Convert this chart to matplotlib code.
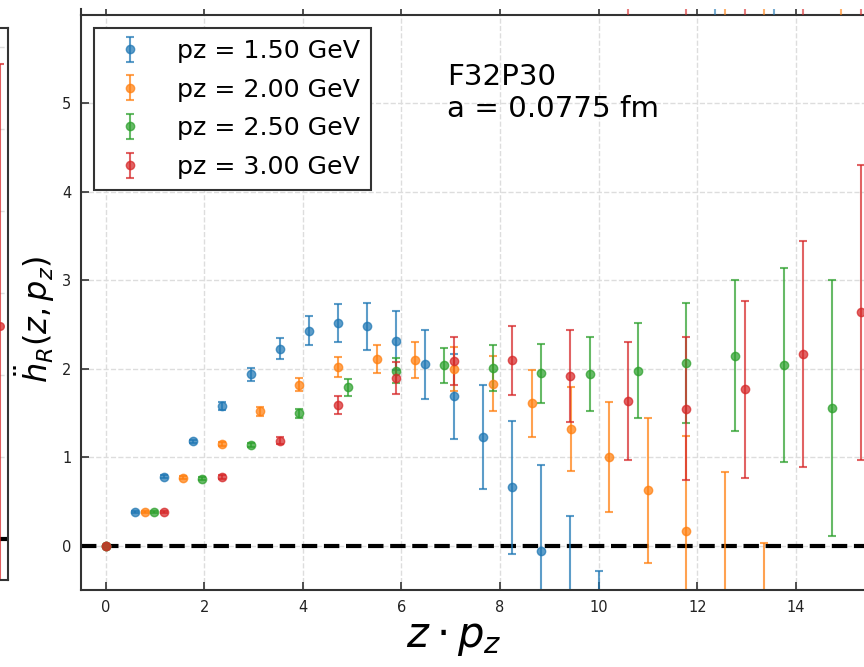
import matplotlib.pyplot as plt

W, H = 864, 667

labels = ["pz = 1.50 GeV", "pz = 2.00 GeV", "pz = 2.50 GeV", "pz = 3.00 GeV"]
colors = ["tab:blue", "tab:orange", "tab:green", "tab:red"]

# z*pz, value, error
zpz_150 = [0, 0.59, 1.18, 1.77, 2.36, 2.95, 3.53, 4.12, 4.71, 5.30, 5.89, 6.48, 7.07, 7.66, 8.25, 8.84, 9.42, 10.01]
h_150 = [0, 0.385, 0.78, 1.18, 1.58, 1.94, 2.23, 2.43, 2.52, 2.48, 2.32, 2.05, 1.69, 1.23, 0.66, -0.055, -0.90, -1.90]
err_150 = [0.005, 0.01, 0.015, 0.02, 0.04, 0.075, 0.115, 0.165, 0.215, 0.27, 0.33, 0.39, 0.48, 0.59, 0.75, 0.97, 1.24, 1.61]

zpz_200 = [0, 0.79, 1.57, 2.36, 3.14, 3.93, 4.71, 5.50, 6.28, 7.07, 7.85, 8.64, 9.43, 10.21, 11.00, 11.78, 12.57, 13.35]
h_200 = [0, 0.385, 0.77, 1.15, 1.52, 1.82, 2.02, 2.11, 2.10, 2.00, 1.83, 1.61, 1.32, 1.00, 0.63, 0.17, -0.60, -1.76]
err_200 = [0.005, 0.01, 0.015, 0.025, 0.05, 0.075, 0.11, 0.155, 0.20, 0.245, 0.31, 0.375, 0.475, 0.62, 0.82, 1.07, 1.43, 1.79]

zpz_250 = [0, 0.98, 1.96, 2.95, 3.93, 4.91, 5.89, 6.87, 7.86, 8.84, 9.82, 10.80, 11.78, 12.77, 13.75, 14.73]
h_250 = [0, 0.385, 0.76, 1.14, 1.50, 1.79, 1.98, 2.04, 2.01, 1.95, 1.94, 1.98, 2.07, 2.15, 2.04, 1.56]
err_250 = [0.005, 0.01, 0.015, 0.02, 0.05, 0.095, 0.14, 0.195, 0.26, 0.335, 0.42, 0.535, 0.68, 0.855, 1.095, 1.445]

zpz_300 = [0, 1.18, 2.36, 3.53, 4.71, 5.89, 7.07, 8.25, 9.42, 10.60, 11.78, 12.96, 14.14, 15.32]
h_300 = [0, 0.385, 0.78, 1.19, 1.59, 1.90, 2.09, 2.10, 1.92, 1.64, 1.55, 1.77, 2.17, 2.64]
err_300 = [0.005, 0.01, 0.02, 0.04, 0.10, 0.18, 0.275, 0.39, 0.52, 0.665, 0.81, 1.0, 1.28, 1.67]

series = [(zpz_150, h_150, err_150), (zpz_200, h_200, err_200),
          (zpz_250, h_250, err_250), (zpz_300, h_300, err_300)]

# error bars of the panel above that cross into the visible strip
strip_x = [10.60, 11.78, 12.37, 12.57, 12.96, 13.35, 13.55, 14.14, 14.92, 15.32]
strip_series = [3, 3, 0, 1, 3, 1, 0, 3, 1, 3]

# neighbouring panel on the left (only its right edge is visible)
left_x = [15.32]
left_h = [2.6]
left_err = [3.19]

SPINE = "#333333"


def px(l, t, r, b):
    # pixel box -> figure fraction
    return [l / W, 1 - b / H, (r - l) / W, (b - t) / H]


def style(ax):
    for s in ax.spines.values():
        s.set_color(SPINE)
        s.set_linewidth(1.5)
    ax.tick_params(direction="in", length=6, width=1.2, color=SPINE,
                   labelsize=10.5, labelcolor="#222222", pad=7)
    ax.grid(True, ls="--", color="#dddddd", lw=1)
    ax.set_axisbelow(True)


fig = plt.figure(figsize=(W / 100, H / 100), dpi=100)

# ---- left neighbour panel ----
unit = 49.3
axl = fig.add_axes(px(8 - 15.98 * unit, 28, 8, 580))
style(axl)
axl.tick_params(labelleft=False, labelbottom=False)
axl.set_xlim(-0.5, 15.48)
axl.set_ylim(-0.5, 6.23)
axl.axhline(0, color="black", ls="--", lw=3, zorder=1.5)
axl.errorbar(left_x, left_h, yerr=left_err, fmt="o", ms=5.5, capsize=3,
             elinewidth=1.5, capthick=1.5, color=colors[3], alpha=0.75)

# ---- main panel ----
ax = fig.add_axes(px(81, 15, 81 + 16.5 * unit, 590))
style(ax)
ax.set_xlim(-0.5, 16)
ax.set_ylim(-0.5, 6.0)
ax.set_xticks(range(0, 15, 2))
ax.set_yticks(range(0, 6))

ax.axhline(0, color="black", ls="--", lw=3, zorder=1.5)
for (x, y, e), c, lab in zip(series, colors, labels):
    ax.errorbar(x, y, yerr=e, fmt="o", ms=6, capsize=3, elinewidth=1.5,
                capthick=1.5, color=c, alpha=0.72, label=lab)

leg = ax.legend(loc="upper left", fontsize=18.2, fancybox=False, framealpha=1,
                edgecolor=SPINE, borderaxespad=0.5, handletextpad=0.85,
                labelspacing=0.58, borderpad=0.45)
leg.get_frame().set_linewidth(1.5)

ax.text(0.45, 0.917, "F32P30\na = 0.0775 fm", transform=ax.transAxes,
        fontsize=21.2, va="top", ha="left")

ax.set_xlabel(r"$z \cdot p_z$", fontsize=30)
ax.xaxis.set_label_coords((454 - 81) / (16.5 * unit), -0.045)
ax.set_ylabel(r"$\ddot{h}_R(z, p_z)$", fontsize=23)
ax.yaxis.set_label_coords(-0.03, 0.47)

# ---- thin strip of the panel above ----
axs = fig.add_axes(px(81, 9, 81 + 16.5 * unit, 15))
axs.set_xlim(-0.5, 16)
axs.set_ylim(0, 1)
for k in ["top", "right", "bottom"]:
    axs.spines[k].set_visible(False)
axs.spines["left"].set_color(SPINE)
axs.spines["left"].set_linewidth(1.5)
axs.set_xticks(range(0, 15, 2))
axs.set_yticks([])
axs.tick_params(direction="in", length=4.5, width=1.2, color=SPINE,
                labelbottom=False)
axs.vlines(strip_x, 0, 1, colors=[colors[i] for i in strip_series],
           lw=1.5, alpha=0.6)
axs.patch.set_alpha(0)

fig.savefig("out.png", dpi=100)
